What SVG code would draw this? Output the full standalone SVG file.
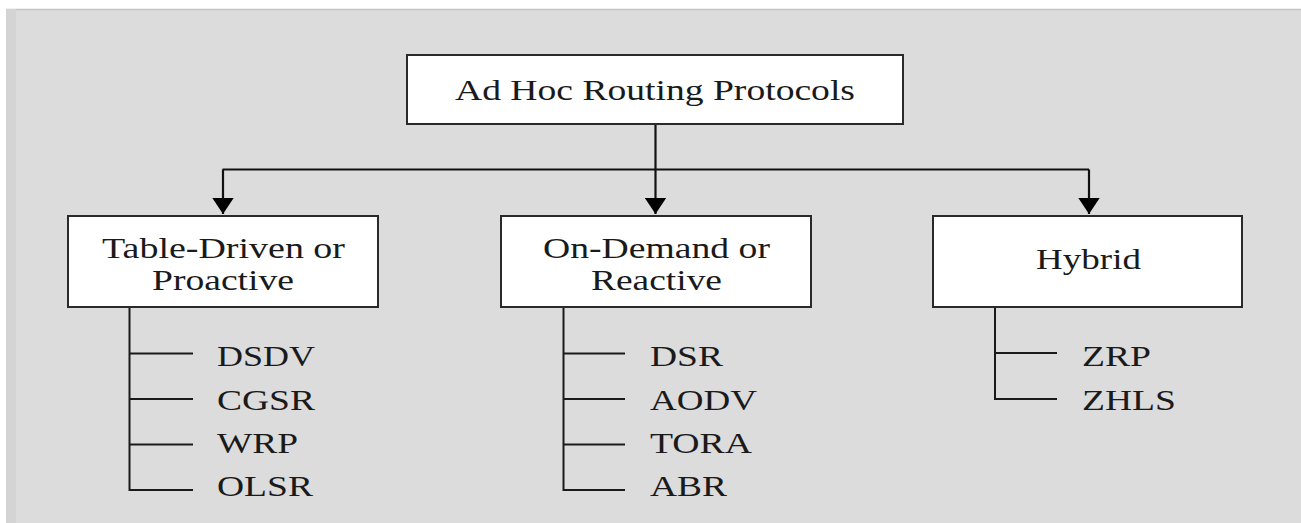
<svg xmlns="http://www.w3.org/2000/svg" width="1301" height="523" viewBox="0 0 1301 523">
<style>
.box{fill:#fff;stroke:#2a2a2a;stroke-width:2}
.t{font-family:"Liberation Serif","Times New Roman",serif;font-size:29px;fill:#1a1a1a}
.c{fill:none;stroke:#111;stroke-width:2.2}
.b{fill:none;stroke:#1a1a1a;stroke-width:2}
</style>
<defs>
<marker id="arr" markerUnits="userSpaceOnUse" markerWidth="22" markerHeight="16" refX="10" refY="15" orient="0" viewBox="0 0 20 15">
<path d="M0,0 L20,0 L10,15 Z" fill="#000"/>
</marker>
</defs>
<rect x="0" y="0" width="1301" height="523" fill="#fff"/>
<rect x="6" y="9" width="1295" height="514" fill="#dcdcdc"/>
<line x1="6" y1="9.5" x2="1301" y2="9.5" stroke="#c4c4c4" stroke-width="1.5"/>
<rect x="6" y="9" width="10" height="514" fill="#d4d4d4"/>

<g id="connectors">
<line class="c" x1="655.5" y1="124" x2="655.5" y2="169.5"/>
<line class="c" x1="222.5" y1="169.5" x2="1089" y2="169.5"/>
<line class="c" x1="223" y1="169.5" x2="223" y2="214" marker-end="url(#arr)"/>
<line class="c" x1="655.5" y1="169.5" x2="655.5" y2="214" marker-end="url(#arr)"/>
<line class="c" x1="1089" y1="169.5" x2="1089" y2="214" marker-end="url(#arr)"/>
<path class="b" d="M129.5,307 V490 H193 M129.5,353.5 H193 M129.5,399 H193 M129.5,444.5 H193"/>
<path class="b" d="M563.5,307 V490 H625 M563.5,353.5 H625 M563.5,399 H625 M563.5,444.5 H625"/>
<path class="b" d="M995,307 V399 H1057 M995,353 H1057"/>
</g>

<g id="root">
<rect class="box" x="407" y="55" width="496" height="69"/>
<text class="t" x="455" y="100" textLength="400" lengthAdjust="spacingAndGlyphs">Ad Hoc Routing Protocols</text>
</g>

<g id="proactive">
<rect class="box" x="68" y="216" width="310" height="91"/>
<text class="t" x="102" y="257.5" textLength="243" lengthAdjust="spacingAndGlyphs">Table-Driven or</text>
<text class="t" x="152" y="289.5" textLength="142" lengthAdjust="spacingAndGlyphs">Proactive</text>
</g>
<g id="reactive">
<rect class="box" x="501" y="216" width="310" height="91"/>
<text class="t" x="543" y="257.5" textLength="227" lengthAdjust="spacingAndGlyphs">On-Demand or</text>
<text class="t" x="591" y="289.5" textLength="131" lengthAdjust="spacingAndGlyphs">Reactive</text>
</g>
<g id="hybrid">
<rect class="box" x="933" y="216" width="309" height="91"/>
<text class="t" x="1036" y="269" textLength="105" lengthAdjust="spacingAndGlyphs">Hybrid</text>
</g>

<g id="dsdv"><text class="t" x="217" y="366" textLength="98" lengthAdjust="spacingAndGlyphs">DSDV</text></g>
<g id="cgsr"><text class="t" x="217" y="409.5" textLength="98" lengthAdjust="spacingAndGlyphs">CGSR</text></g>
<g id="wrp"><text class="t" x="217" y="453" textLength="81" lengthAdjust="spacingAndGlyphs">WRP</text></g>
<g id="olsr"><text class="t" x="217" y="496" textLength="96" lengthAdjust="spacingAndGlyphs">OLSR</text></g>

<g id="dsr"><text class="t" x="650" y="366" textLength="73" lengthAdjust="spacingAndGlyphs">DSR</text></g>
<g id="aodv"><text class="t" x="650" y="409.5" textLength="107" lengthAdjust="spacingAndGlyphs">AODV</text></g>
<g id="tora"><text class="t" x="650" y="453" textLength="102" lengthAdjust="spacingAndGlyphs">TORA</text></g>
<g id="abr"><text class="t" x="650" y="496" textLength="77" lengthAdjust="spacingAndGlyphs">ABR</text></g>

<g id="zrp"><text class="t" x="1082" y="366" textLength="69" lengthAdjust="spacingAndGlyphs">ZRP</text></g>
<g id="zhls"><text class="t" x="1082" y="409.5" textLength="94" lengthAdjust="spacingAndGlyphs">ZHLS</text></g>
</svg>
